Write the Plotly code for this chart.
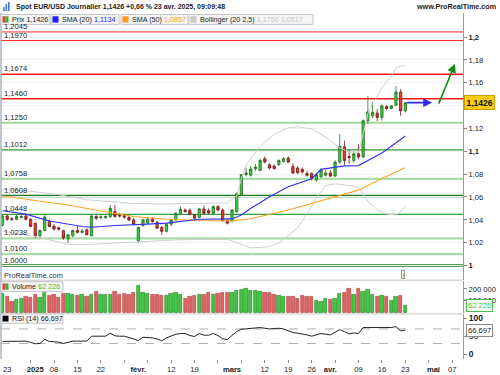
import plotly.graph_objects as go
import pandas as pd

# ------------------------------------------------------------------ data
HOLIDAYS = ["2024-12-25", "2025-01-01"]
calendar = [d.strftime("%Y-%m-%d") for d in pd.bdate_range("2024-12-20", "2025-05-09")
            if d.strftime("%Y-%m-%d") not in HOLIDAYS]
N_BARS = 87
dates = calendar[:N_BARS]

open_ = [1.0356, 1.0434, 1.0410, 1.0405, 1.0422, 1.0434, 1.0405, 1.0371, 1.0260, 1.0307,
         1.0385, 1.0345, 1.0330, 1.0304, 1.0234, 1.0260, 1.0307, 1.0290, 1.0313, 1.0260,
         1.0429, 1.0420, 1.0418, 1.0429, 1.0472, 1.0443, 1.0440, 1.0420, 1.0399, 1.0217,
         1.0351, 1.0371, 1.0405, 1.0379, 1.0333, 1.0299, 1.0362, 1.0399, 1.0457, 1.0486,
         1.0483, 1.0443, 1.0420, 1.0495, 1.0480, 1.0457, 1.0516, 1.0486, 1.0394, 1.0391,
         1.0472, 1.0622, 1.0796, 1.0790, 1.0848, 1.0833, 1.0935, 1.0883, 1.0871, 1.0883,
         1.0911, 1.0941, 1.0866, 1.0854, 1.0842, 1.0805, 1.0805, 1.0750, 1.0776, 1.0790,
         1.0811, 1.0784, 1.0906, 1.1040, 1.0955, 1.0920, 1.0978, 1.0950, 1.1268, 1.1311,
         1.1335, 1.1297, 1.1392, 1.1375, 1.1404, 1.1519, 1.1354]
high = [1.0451, 1.0450, 1.0425, 1.0445, 1.0445, 1.0451, 1.0415, 1.0375, 1.0315, 1.0440,
        1.0400, 1.0360, 1.0340, 1.0315, 1.0275, 1.0315, 1.0345, 1.0320, 1.0325, 1.0440,
        1.0440, 1.0440, 1.0440, 1.0530, 1.0530, 1.0460, 1.0455, 1.0440, 1.0415, 1.0340,
        1.0410, 1.0420, 1.0425, 1.0390, 1.0345, 1.0370, 1.0405, 1.0465, 1.0515, 1.0500,
        1.0500, 1.0450, 1.0505, 1.0525, 1.0500, 1.0528, 1.0530, 1.0500, 1.0410, 1.0495,
        1.0640, 1.0800, 1.0855, 1.0870, 1.0890, 1.0935, 1.0955, 1.0895, 1.0885, 1.0930,
        1.0950, 1.0955, 1.0895, 1.0870, 1.0860, 1.0830, 1.0815, 1.0805, 1.0850, 1.0840,
        1.0835, 1.0920, 1.1150, 1.1094, 1.1010, 1.1000, 1.1060, 1.1280, 1.1484, 1.1432,
        1.1370, 1.1410, 1.1404, 1.1404, 1.1571, 1.1545, 1.1432]
low = [1.0342, 1.0390, 1.0390, 1.0395, 1.0410, 1.0395, 1.0335, 1.0240, 1.0240, 1.0300,
       1.0335, 1.0305, 1.0305, 1.0226, 1.0197, 1.0245, 1.0280, 1.0280, 1.0265, 1.0255,
       1.0400, 1.0405, 1.0410, 1.0415, 1.0420, 1.0420, 1.0410, 1.0390, 1.0350, 1.0195,
       1.0340, 1.0360, 1.0375, 1.0320, 1.0269, 1.0290, 1.0345, 1.0390, 1.0450, 1.0465,
       1.0440, 1.0400, 1.0415, 1.0450, 1.0450, 1.0450, 1.0475, 1.0385, 1.0360, 1.0375,
       1.0460, 1.0615, 1.0780, 1.0780, 1.0830, 1.0825, 1.0895, 1.0840, 1.0840, 1.0870,
       1.0900, 1.0895, 1.0800, 1.0800, 1.0805, 1.0780, 1.0745, 1.0735, 1.0770, 1.0780,
       1.0775, 1.0775, 1.0890, 1.0880, 1.0890, 1.0900, 1.0930, 1.0940, 1.1240, 1.1290,
       1.1265, 1.1270, 1.1360, 1.1368, 1.1395, 1.1311, 1.1340]
close = [1.0434, 1.0405, 1.0405, 1.0429, 1.0428, 1.0405, 1.0342, 1.0260, 1.0307, 1.0425,
         1.0342, 1.0319, 1.0319, 1.0240, 1.0269, 1.0307, 1.0290, 1.0300, 1.0269, 1.0434,
         1.0414, 1.0425, 1.0429, 1.0501, 1.0429, 1.0434, 1.0423, 1.0399, 1.0362, 1.0333,
         1.0399, 1.0405, 1.0385, 1.0327, 1.0299, 1.0362, 1.0399, 1.0457, 1.0492, 1.0472,
         1.0449, 1.0414, 1.0495, 1.0457, 1.0460, 1.0516, 1.0486, 1.0391, 1.0371, 1.0486,
         1.0631, 1.0796, 1.0810, 1.0845, 1.0862, 1.0920, 1.0906, 1.0854, 1.0848, 1.0920,
         1.0935, 1.0906, 1.0810, 1.0813, 1.0819, 1.0790, 1.0767, 1.0796, 1.0833, 1.0811,
         1.0784, 1.0906, 1.1045, 1.0920, 1.0945, 1.0978, 1.0950, 1.1268, 1.1346, 1.1340,
         1.1297, 1.1398, 1.1375, 1.1398, 1.1519, 1.1354, 1.1426]
volume = [161000, 136000, 94000, 108000, 117000, 136000, 125000, 150000, 125000, 167000,
          147000, 151000, 125000, 158000, 161000, 155000, 139000, 151000, 136000, 155000,
          175000, 150000, 151000, 151000, 180000, 151000, 161000, 151000, 167000, 228000,
          167000, 161000, 151000, 151000, 141000, 139000, 161000, 169000, 151000, 122000,
          136000, 141000, 151000, 155000, 169000, 150000, 163000, 166000, 169000, 169000,
          183000, 191000, 203000, 183000, 183000, 175000, 169000, 166000, 150000, 141000,
          136000, 136000, 136000, 122000, 141000, 136000, 136000, 100000, 94000, 122000,
          108000, 122000, 163000, 169000, 205000, 155000, 205000, 178000, 191000, 155000,
          136000, 141000, 136000, 100000, 136000, 141000, 62226]
rsi = [35.5, 35.5, 34.5, 36.4, 36.4, 36.4, 32.8, 29.1, 30.0, 41.0,
       35.5, 34.0, 33.7, 30.0, 32.8, 36.4, 36.4, 36.4, 36.4, 50.0,
       50.0, 50.0, 50.0, 58.2, 51.0, 50.0, 50.0, 46.4, 42.7, 38.2,
       47.3, 47.3, 45.4, 42.7, 37.3, 45.4, 50.0, 55.5, 57.3, 57.3,
       51.9, 49.1, 57.3, 52.8, 52.8, 57.3, 51.9, 42.7, 41.0, 51.0,
       62.8, 69.1, 71.0, 71.5, 72.8, 73.8, 71.0, 70.0, 71.0, 71.9,
       70.0, 64.6, 60.0, 58.2, 56.4, 53.6, 50.0, 53.6, 57.3, 55.5,
       53.6, 60.9, 68.2, 62.7, 56.4, 59.1, 57.3, 73.8, 73.8, 71.9,
       72.8, 72.8, 72.8, 73.8, 76.5, 64.6, 66.697]

sma20_dates = ["2024-12-20", "2024-12-30", "2025-01-07", "2025-01-16", "2025-01-20", "2025-01-27",
               "2025-02-05", "2025-02-11", "2025-02-20", "2025-03-03", "2025-03-05", "2025-03-07",
               "2025-03-11", "2025-03-13", "2025-03-19", "2025-03-26", "2025-03-28", "2025-04-04",
               "2025-04-09", "2025-04-16", "2025-04-23"]
sma20_vals = [1.0480, 1.0450, 1.0390, 1.0342, 1.0335, 1.0350, 1.0362, 1.0371, 1.0405, 1.0408, 1.0443,
              1.0501, 1.0550, 1.0602, 1.0689, 1.0760, 1.0842, 1.0872, 1.0875, 1.0985, 1.1134]

sma50_dates = ["2024-12-20", "2025-01-02", "2025-01-13", "2025-01-22", "2025-01-31", "2025-02-11",
               "2025-02-20", "2025-03-03", "2025-03-07", "2025-03-19", "2025-04-01", "2025-04-09",
               "2025-04-16", "2025-04-23"]
sma50_vals = [1.0608, 1.0570, 1.0530, 1.0477, 1.0429, 1.0405, 1.0394, 1.0391, 1.0410, 1.0486,
              1.0588, 1.0660, 1.0761, 1.0857]

boll_up_dates = ["2024-12-20", "2024-12-31", "2025-01-09", "2025-01-17", "2025-01-24", "2025-01-30",
                 "2025-02-10", "2025-02-20", "2025-02-28", "2025-03-04", "2025-03-05", "2025-03-06",
                 "2025-03-07", "2025-03-11", "2025-03-14", "2025-03-19", "2025-03-21", "2025-03-26",
                 "2025-03-28", "2025-04-01", "2025-04-03", "2025-04-07", "2025-04-09", "2025-04-10",
                 "2025-04-11", "2025-04-14", "2025-04-15", "2025-04-16", "2025-04-17", "2025-04-18",
                 "2025-04-21", "2025-04-22", "2025-04-23"]
boll_up_vals = [1.0665, 1.0650, 1.0620, 1.0575, 1.0560, 1.0545, 1.0538, 1.0540, 1.0548, 1.0610,
                1.0760, 1.0880, 1.0940, 1.1040, 1.1150, 1.1205, 1.1215, 1.1195, 1.1150, 1.1094,
                1.1030, 1.0995, 1.0990, 1.1150, 1.1330, 1.1420, 1.1480, 1.1557, 1.1610, 1.1660,
                1.1731, 1.1745, 1.1750]

boll_low_dates = ["2024-12-20", "2025-01-02", "2025-01-13", "2025-01-20", "2025-01-27", "2025-02-05",
                  "2025-02-14", "2025-02-28", "2025-03-04", "2025-03-07", "2025-03-13", "2025-03-17",
                  "2025-03-19", "2025-03-21", "2025-03-25", "2025-03-27", "2025-03-31", "2025-04-02",
                  "2025-04-09", "2025-04-10", "2025-04-11", "2025-04-15", "2025-04-17", "2025-04-21",
                  "2025-04-22", "2025-04-23"]
boll_low_vals = [1.0300, 1.0255, 1.0185, 1.0185, 1.0197, 1.0210, 1.0226, 1.0230, 1.0200, 1.0154,
                 1.0165, 1.0200, 1.0260, 1.0330, 1.0450, 1.0590, 1.0700, 1.0715, 1.0690, 1.0630,
                 1.0560, 1.0490, 1.0450, 1.0443, 1.0470, 1.0517]

levels = [1.2045, 1.1970, 1.1674, 1.1460, 1.1250, 1.1012, 1.0758, 1.0608, 1.0448, 1.0238, 1.0100, 1.0000]
level_labels = ["1,2045", "1,1970", "1,1674", "1,1460", "1,1250", "1,1012", "1,0758", "1,0608",
                "1,0448", "1,0238", "1,0100", "1,0000"]

tick_dates = ["2024-12-23", "2025-01-02", "2025-01-08", "2025-01-15", "2025-01-22", "2025-02-03",
              "2025-02-12", "2025-02-19", "2025-03-03", "2025-03-12", "2025-03-19", "2025-03-26",
              "2025-04-01", "2025-04-09", "2025-04-16", "2025-04-23", "2025-05-01", "2025-05-07"]
tick_labels = ["23", "<b>2025</b>", "08", "15", "22", "<b>févr.</b>", "12", "19", "<b>mars</b>", "12", "19",
               "26", "<b>avr.</b>", "09", "16", "23", "<b>mai</b>", "07"]
week_tick_dates = ["2024-12-31", "2025-01-08", "2025-01-15", "2025-01-22", "2025-01-29", "2025-02-05",
                   "2025-02-12", "2025-02-19", "2025-02-26", "2025-03-05", "2025-03-12", "2025-03-19",
                   "2025-03-26", "2025-04-02", "2025-04-09", "2025-04-16", "2025-04-23", "2025-04-30",
                   "2025-05-07"]

price_ticks = [1.0, 1.02, 1.04, 1.06, 1.08, 1.10, 1.12, 1.14, 1.16, 1.18, 1.20]
price_tick_labels = ["<b>1</b>", "1,02", "1,04", "1,06", "1,08", "<b>1,1</b>", "1,12", "1,14",
                     "1,16", "1,18", "<b>1,2</b>"]
vol_ticks = [100000, 200000]
vol_tick_labels = ["100 000", "200 000"]
rsi_ticks = [0, 50, 100]
rsi_tick_labels = ["<b>0</b>", "50", "<b>100</b>"]
rsi_bands = [70, 30]

# arrows drawn on the chart (trading-day index, price)
arrow_x0 = [86, 93.0]
arrow_y0 = [1.1426, 1.1404]
arrow_x1 = [91.7, 96.6]
arrow_y1 = [1.1426, 1.1766]

last_price = "1,1426"
header = "Spot EUR/USD Journalier 1,1426 +0,66 % 23 avr. 2025, 09:09:48"

# legend boxes: (left px, right px, icon colours, text)
legend_boxes = [
    (1, 50, ["#e23b3b", "#2fb52f"], "Prix 1,1426"),
    (51, 119, ["#1f1fff"], "SMA (20) <span style='color:#2424ff'>1,1134</span>"),
    (121, 188, ["#ff9a1a"], "SMA (50) <span style='color:#ff9a1a'>1,0857</span>"),
    (189, 313, ["#c8c8c8"], "Bollinger (20 2,5) <span style='color:#c4c4c4'>1,1750 1,0517</span>"),
]

# ------------------------------------------------------------------ styles
FONT = "Liberation Sans, Arial, sans-serif"
GREEN, GREEN_LINE = "#3fcb3f", "#1f6f1f"
RED, RED_LINE = "#e23b3b", "#7a1616"
level_colors = ["#ff2a2a", "#ff2a2a", "#ff1a1a", "#ff1a1a", "#a3d8a3", "#2f9a2f", "#a8dca8", "#1d7a1d",
                "#35a035", "#a8dca8", "#a8dca8", "#1d7a1d"]
level_widths = [1, 1, 1.6, 1.6, 2.2, 1.3, 2.2, 2.6, 1.3, 2.2, 2.2, 2.6]
LEG_SIZE = 7.2

W, H = 500, 375
ML, MR, MT, MB = 1, 37, 13, 13
PH = H - MT - MB


def py(px):  # pixel row -> paper y
    return (H - MB - px) / PH


def pxx(px):  # pixel column -> paper x
    return (px - ML) / (W - ML - MR)


pos = {d: i for i, d in enumerate(calendar)}
xs = list(range(N_BARS))

fig = go.Figure()

# bollinger, sma
fig.add_trace(go.Scatter(x=[pos[d] for d in boll_up_dates], y=boll_up_vals, mode="lines",
                         line=dict(color="#cfcfcf", width=1), hoverinfo="skip"))
fig.add_trace(go.Scatter(x=[pos[d] for d in boll_low_dates], y=boll_low_vals, mode="lines",
                         line=dict(color="#cfcfcf", width=1), hoverinfo="skip"))
fig.add_trace(go.Scatter(x=[pos[d] for d in sma50_dates], y=sma50_vals, mode="lines",
                         line=dict(color="#ffa42a", width=1.1)))
fig.add_trace(go.Scatter(x=[pos[d] for d in sma20_dates], y=sma20_vals, mode="lines",
                         line=dict(color="#3030f0", width=1.1)))

fig.add_trace(go.Candlestick(
    x=xs, open=open_, high=high, low=low, close=close,
    increasing=dict(line=dict(color=GREEN_LINE, width=0.8), fillcolor=GREEN),
    decreasing=dict(line=dict(color=RED_LINE, width=0.8), fillcolor=RED),
    whiskerwidth=0))

vol_colors = [GREEN if c >= o else "#e06666" for o, c in zip(open_, close)]
vol_lines = [GREEN_LINE if c >= o else "#a83232" for o, c in zip(open_, close)]
fig.add_trace(go.Bar(x=xs, y=volume, yaxis="y2", width=0.72,
                     marker=dict(color=vol_colors, line=dict(color=vol_lines, width=0.6))))

fig.add_trace(go.Scatter(x=xs, y=rsi, yaxis="y3", mode="lines", line=dict(color="#222222", width=1)))

shapes = []
for lv, c, w in zip(levels, level_colors, level_widths):
    shapes.append(dict(type="line", xref="x domain", x0=0, x1=1, yref="y", y0=lv, y1=lv,
                       line=dict(color=c, width=w), layer="below"))
for b in rsi_bands:
    shapes.append(dict(type="line", xref="x domain", x0=0, x1=1, yref="y3", y0=b, y1=b,
                       line=dict(color="#b0b0b0", width=1, dash="dash"), layer="below"))
# panel separators and borders
for yy in [282.5, 316.5]:
    shapes.append(dict(type="line", xref="paper", x0=0, x1=1, yref="paper", y0=py(yy), y1=py(yy),
                       line=dict(color="#c4c4c4", width=1)))
shapes.append(dict(type="line", xref="paper", x0=0, x1=0, yref="paper", y0=0, y1=1,
                   line=dict(color="#aab4be", width=1.5)))
# header icon
for k, hh in enumerate([4, 7, 9]):
    shapes.append(dict(type="rect", xref="paper", yref="paper",
                       x0=pxx(3 + 2.5 * k), x1=pxx(4.6 + 2.5 * k), y0=py(11), y1=py(11 - hh),
                       fillcolor="#3b78d8", line=dict(width=0)))


def legend_box(x0, x1, y0, y1, icons, text, ann_list, shape_list, txt_gap=8):
    shape_list.append(dict(type="rect", xref="paper", yref="paper", x0=pxx(x0), x1=pxx(x1),
                           y0=py(y1), y1=py(y0), fillcolor="#f4f4f4",
                           line=dict(color="#c6c6c6", width=1)))
    iw = 6 / len(icons)
    for k, c in enumerate(icons):
        shape_list.append(dict(type="rect", xref="paper", yref="paper",
                               x0=pxx(x0 + 1.5 + k * iw), x1=pxx(x0 + 1.5 + (k + 1) * iw),
                               y0=py(y1 - 1.8), y1=py(y0 + 1.8), fillcolor=c, line=dict(width=0)))
    ann_list.append(dict(x=pxx(x0 + txt_gap + 1), y=py((y0 + y1) / 2), xref="paper", yref="paper",
                         xanchor="left", yanchor="middle", text=text, showarrow=False,
                         font=dict(size=LEG_SIZE, color="#222", family=FONT)))


ann = []
for bx0, bx1, icons, txt in legend_boxes:
    legend_box(bx0, bx1, 14.5, 24.5, icons, txt, ann, shapes)
legend_box(1, 63, 284, 294, ["#e23b3b", "#2fb52f"],
           "Volume <span style='color:#3cbf3c'>62 226</span>", ann, shapes)
legend_box(1, 63, 316.5, 326, ["#000000"], "RSI (14) 66,697", ann, shapes)

for lv, lab in zip(levels, level_labels):
    ann.append(dict(x=0, xref="x domain", y=lv, yref="y", text=lab, showarrow=False,
                    xanchor="left", yanchor="bottom", xshift=1, yshift=-1,
                    font=dict(size=7.6, color="#222", family=FONT)))

for x0, y0, x1, y1, col in zip(arrow_x0, arrow_y0, arrow_x1, arrow_y1, ["#2b2bef", "#168a16"]):
    ann.append(dict(x=x1, y=y1, ax=x0, ay=y0, xref="x", yref="y", axref="x", ayref="y",
                    text="", showarrow=True, arrowhead=2, arrowsize=1.1, arrowwidth=1.6,
                    arrowcolor=col))

ann.append(dict(x=pxx(14), y=py(6.5), xref="paper", yref="paper", xanchor="left", yanchor="middle",
                text="<b>" + header + "</b>", showarrow=False,
                font=dict(size=7.0, color="#222", family=FONT)))
ann.append(dict(x=pxx(498), y=py(6.5), xref="paper", yref="paper", xanchor="right", yanchor="middle",
                text="<b>www.ProRealTime.com</b>", showarrow=False,
                font=dict(size=7.2, color="#222", family=FONT)))
ann.append(dict(x=pxx(2), y=py(277.5), xref="paper", yref="paper", xanchor="left", yanchor="middle",
                text="ProRealTime.com", showarrow=False, font=dict(size=7.4, color="#333", family=FONT)))
ann.append(dict(x=pxx(403), y=py(277), xref="paper", yref="paper", xanchor="center", yanchor="middle",
                text="i", showarrow=False, bordercolor="#9a9a9a", borderwidth=1, borderpad=0.5,
                bgcolor="#f3f3f3", font=dict(size=6, color="#666", family=FONT)))

# value tags on the right axis
ann.append(dict(x=1, xref="paper", y=close[-1], yref="y", xanchor="left", yanchor="middle",
                text="<b>" + last_price + "</b>", showarrow=False, bgcolor="#ffcc1a",
                bordercolor="#caa000", borderwidth=1, borderpad=1.5, xshift=1,
                font=dict(size=8.5, color="#111", family=FONT)))
ann.append(dict(x=1, xref="paper", y=volume[-1], yref="y2", xanchor="left", yanchor="middle",
                text="62 226", showarrow=False, bgcolor="#ffffff", bordercolor="#45c045",
                borderwidth=1, borderpad=1, xshift=3, font=dict(size=7.6, color="#3cbf3c", family=FONT)))
ann.append(dict(x=1, xref="paper", y=rsi[-1], yref="y3", xanchor="left", yanchor="middle",
                text="66,697", showarrow=False, bgcolor="#ffffff", bordercolor="#8a8a8a",
                borderwidth=1, borderpad=1, xshift=3, font=dict(size=7.6, color="#222", family=FONT)))

x_range = [-0.32, 98.31]
axis_font = dict(size=7.6, color="#222", family=FONT)

fig.update_layout(
    width=W, height=H, margin=dict(l=ML, r=MR, t=MT, b=MB),
    paper_bgcolor="white", plot_bgcolor="white", showlegend=False,
    font=dict(family=FONT, size=8, color="#222"),
    shapes=shapes, annotations=ann, bargap=0,
    xaxis=dict(domain=[0, 1], range=x_range, anchor="y3", tickmode="array",
               tickvals=[pos[d] for d in tick_dates], ticktext=tick_labels,
               ticks="outside", ticklen=3, tickcolor="rgba(0,0,0,0)", tickfont=axis_font,
               minor=dict(tickmode="array", tickvals=[pos[d] for d in week_tick_dates],
                          ticks="outside", ticklen=3, tickcolor="#8a8a8a", showgrid=False),
               showgrid=False, zeroline=False, showline=False,
               rangeslider=dict(visible=False)),
    yaxis=dict(domain=[py(282), 1], range=[1 - (282 - 267.7) / 1152, 1 + (267.7 - 13) / 1152],
               side="right", anchor="x", tickmode="array", tickvals=price_ticks,
               ticktext=price_tick_labels, ticks="outside", ticklen=3, tickcolor="#888",
               tickfont=axis_font, showgrid=True, gridcolor="#f1f1f1", zeroline=False,
               showline=True, linecolor="#9a9a9a", linewidth=1),
    yaxis2=dict(domain=[py(316), py(283)],
                range=[-(316 - 315.3) / 12 * 100000, (315.3 - 283) / 12 * 100000],
                side="right", anchor="x", tickmode="array", tickvals=vol_ticks,
                ticktext=vol_tick_labels, ticks="outside", ticklen=3, tickcolor="#888",
                tickfont=axis_font, showgrid=False, zeroline=False,
                showline=True, linecolor="#9a9a9a", linewidth=1),
    yaxis3=dict(domain=[0, py(317)], range=[(357.3 - 362) / 0.366, (357.3 - 317) / 0.366],
                side="right", anchor="x", tickmode="array", tickvals=rsi_ticks,
                ticktext=rsi_tick_labels, ticks="outside", ticklen=3, tickcolor="#888",
                tickfont=dict(size=8.5, color="#222", family=FONT), showgrid=False, zeroline=False,
                showline=True, linecolor="#9a9a9a", linewidth=1),
)

fig.write_html("out.html", config={"displayModeBar": False},
               post_script="document.body.style.margin='0';document.body.style.overflow='hidden';")
